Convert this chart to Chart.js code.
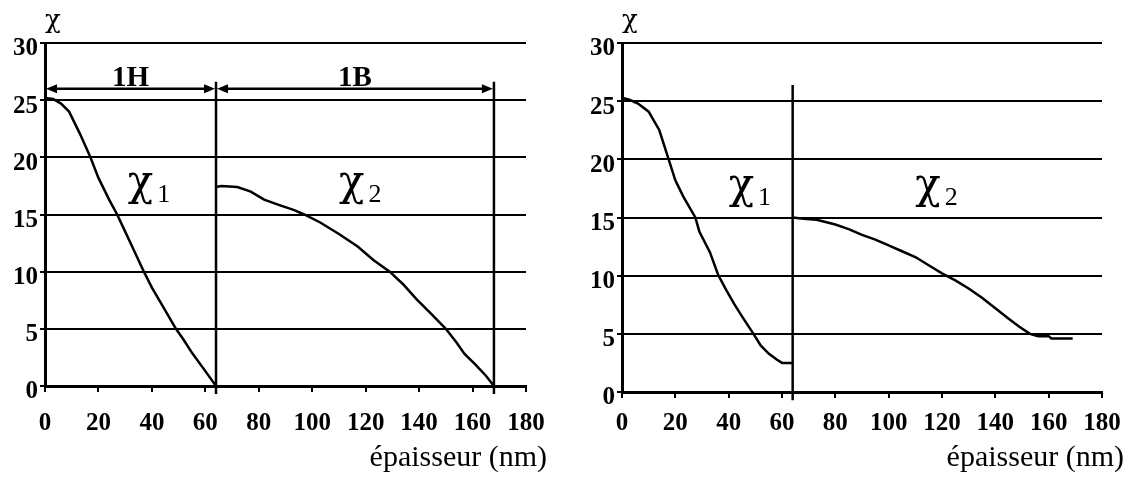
<!DOCTYPE html>
<html>
<head>
<meta charset="utf-8">
<script src="https://cdn.jsdelivr.net/npm/chart.js@4"></script>
<style>
  body { margin: 0; background: #fff; }
  #wrap { position: relative; width: 1134px; height: 486px; }
  #wrap canvas { position: absolute; top: 0; }
</style>
</head>
<body>
<div id="wrap">
  <canvas id="chartLeft" width="567" height="486" style="left:0"></canvas>
  <canvas id="chartRight" width="567" height="486" style="left:567px"></canvas>
</div>
<script>
// ==========================================
// DATA
// ==========================================
const xTicks = [0, 20, 40, 60, 80, 100, 120, 140, 160, 180];
const yTicks = [0, 5, 10, 15, 20, 25, 30];

// left chart : chi1 (layer 1H) and chi2 (layer 1B)
const leftChi1X = [0, 3, 6, 9, 13, 17, 20, 24, 27, 30, 33, 37, 40, 44, 49, 52, 55, 60, 64];
const leftChi1Y = [25.2, 25.1, 24.7, 24.0, 22.1, 20.0, 18.2, 16.3, 15.0, 13.5, 12.0, 10.0, 8.6, 7.0, 5.0, 4.0, 2.9, 1.3, 0];
const leftChi2X = [64, 66, 72, 77, 82, 88, 93, 97, 103, 110, 117, 123, 129, 134, 139, 145, 150, 154, 157, 161, 165, 168];
const leftChi2Y = [17.4, 17.5, 17.4, 17.0, 16.3, 15.8, 15.4, 15.0, 14.3, 13.3, 12.2, 11.0, 10.0, 8.9, 7.6, 6.2, 5.0, 3.8, 2.8, 1.9, 0.9, 0];
const leftBounds = [64, 168];
const leftBoundTop = 26.6;

// right chart
const rightChi1X = [0, 3, 6, 10, 14, 17.5, 20, 23, 27.5, 29, 33, 36, 39, 42, 45, 49, 52, 55, 58, 60, 64];
const rightChi1Y = [25.3, 25.1, 24.8, 24.1, 22.5, 20.0, 18.2, 16.8, 15.0, 13.8, 12.0, 10.1, 8.8, 7.6, 6.5, 5.1, 4.0, 3.3, 2.8, 2.5, 2.5];
const rightChi2X = [64, 68, 73, 80, 85, 90, 95, 100, 105, 110, 115, 120, 125, 130, 135, 140, 145, 149, 153, 156, 160, 161, 169];
const rightChi2Y = [15.0, 14.9, 14.8, 14.4, 14.0, 13.5, 13.1, 12.6, 12.1, 11.6, 10.9, 10.2, 9.6, 8.9, 8.1, 7.2, 6.3, 5.6, 5.0, 4.8, 4.8, 4.6, 4.6];
const rightBounds = [64];
const rightBoundTop = 26.4;

// layer regions marked with arrows (left chart)
const regionEdges = [0, 64, 168];
const regionNames = ['1H', '1B'];
const arrowLevel = 26;

const xTitle = 'épaisseur (nm)';
const yTitle = 'χ';

// ==========================================
// HELPERS
// ==========================================
const SERIF = '"Liberation Serif", "Times New Roman", serif';
const GREEK = '"DejaVu Serif", serif';

function toPoints(xs, ys) {
    return xs.map((v, i) => ({ x: v, y: ys[i] }));
}

function lineSet(data) {
    return { data, showLine: true, borderColor: '#000', borderWidth: 2.5, pointRadius: 0, tension: 0, fill: false, clip: false };
}

function arrowHead(ctx, tipX, yy, dir) {
    ctx.beginPath();
    ctx.moveTo(tipX, yy);
    ctx.lineTo(tipX + dir * 11, yy - 4.5);
    ctx.lineTo(tipX + dir * 11, yy + 4.5);
    ctx.closePath();
    ctx.fill();
}

// arrows, chi labels, axis titles
const decor = {
    id: 'decor',
    afterDatasetsDraw(chart, args, o) {
        const { ctx, chartArea } = chart;
        const x = chart.scales.x, y = chart.scales.y;
        ctx.save();
        ctx.fillStyle = '#000';
        ctx.strokeStyle = '#000';

        ctx.font = '26px ' + GREEK;
        ctx.textAlign = 'left';
        ctx.textBaseline = 'alphabetic';
        ctx.fillText(yTitle, chartArea.left, 28);

        if (o.edges) {
            const ay = y.getPixelForValue(o.arrowLevel);
            ctx.lineWidth = 2.5;
            for (let i = 0; i < o.edges.length - 1; i++) {
                const a = x.getPixelForValue(o.edges[i]) + 1;
                const b = x.getPixelForValue(o.edges[i + 1]) - 1;
                ctx.beginPath();
                ctx.moveTo(a + 6, ay);
                ctx.lineTo(b - 6, ay);
                ctx.stroke();
                arrowHead(ctx, a, ay, 1);
                arrowHead(ctx, b, ay, -1);
                ctx.font = 'bold 29px ' + SERIF;
                ctx.textAlign = 'center';
                ctx.fillText(o.names[i], (a + b) / 2, ay - 3);
            }
        }

        o.chis.forEach(c => {
            const px = x.getPixelForValue(c.x);
            const py = y.getPixelForValue(o.chiLevel);
            ctx.textAlign = 'left';
            ctx.font = '42px ' + GREEK;
            ctx.fillText('χ', px, py);
            const w = ctx.measureText('χ').width;
            ctx.font = '26px ' + SERIF;
            ctx.fillText(c.sub, px + w + 4, py + 7);
        });

        ctx.font = '30px ' + SERIF;
        ctx.textAlign = 'right';
        ctx.fillText(xTitle, chart.width - o.titleGap, 466);
        ctx.restore();
    }
};

function makeChart(id, cfg) {
    const datasets = [
        lineSet(toPoints(cfg.chi1X, cfg.chi1Y)),
        lineSet(toPoints(cfg.chi2X, cfg.chi2Y))
    ];
    // layer boundaries, drawn a little below the axis like the original
    cfg.bounds.forEach(b => datasets.push(lineSet([{ x: b, y: -0.7 }, { x: b, y: cfg.boundTop }])));

    const tickFont = { family: SERIF, size: 25, weight: 'bold' };

    return new Chart(document.getElementById(id), {
        type: 'scatter',
        data: { datasets },
        plugins: [decor],
        options: {
            responsive: false,
            animation: false,
            layout: { padding: { top: 43, right: cfg.padRight, left: 0, bottom: 0 } },
            plugins: {
                legend: { display: false },
                tooltip: { enabled: false },
                decor: cfg.decor
            },
            scales: {
                x: {
                    type: 'linear', min: 0, max: 180,
                    afterBuildTicks: s => { s.ticks = xTicks.map(v => ({ value: v })); },
                    afterFit: s => { s.height = cfg.xHeight; },
                    grid: { drawOnChartArea: false, drawTicks: true, tickLength: 6, color: '#000', lineWidth: 2 },
                    border: { color: '#000', width: 3 },
                    ticks: { font: tickFont, color: '#000', padding: cfg.xPad, maxRotation: 0, autoSkip: false }
                },
                y: {
                    type: 'linear', min: 0, max: 30,
                    afterBuildTicks: s => { s.ticks = yTicks.map(v => ({ value: v })); },
                    afterFit: s => { s.width = cfg.yWidth; },
                    grid: { color: '#000', lineWidth: 2, tickLength: 5 },
                    border: { color: '#000', width: 3 },
                    ticks: { font: tickFont, color: '#000', padding: 2, labelOffset: 6 }
                }
            }
        }
    });
}

document.addEventListener('DOMContentLoaded', () => {
    makeChart('chartLeft', {
        chi1X: leftChi1X, chi1Y: leftChi1Y, chi2X: leftChi2X, chi2Y: leftChi2Y,
        bounds: leftBounds, boundTop: leftBoundTop,
        padRight: 41, xHeight: 100, yWidth: 45, xPad: 17,
        decor: {
            edges: regionEdges, names: regionNames, arrowLevel: arrowLevel,
            chiLevel: 16.7, chis: [{ x: 31, sub: '1' }, { x: 110, sub: '2' }],
            titleGap: 20
        }
    });
    makeChart('chartRight', {
        chi1X: rightChi1X, chi1Y: rightChi1Y, chi2X: rightChi2X, chi2Y: rightChi2Y,
        bounds: rightBounds, boundTop: rightBoundTop,
        padRight: 32, xHeight: 94, yWidth: 55, xPad: 11,
        decor: {
            chiLevel: 16.7, chis: [{ x: 40, sub: '1' }, { x: 110, sub: '2' }],
            titleGap: 10
        }
    });
});
</script>
</body>
</html>
